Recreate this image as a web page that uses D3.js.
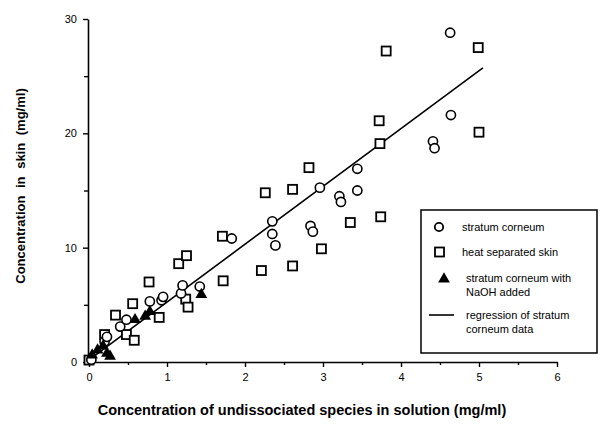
<!DOCTYPE html>
<html>
<head>
<meta charset="utf-8">
<script src="https://cdn.jsdelivr.net/npm/d3@7"></script>
<style>
  body { margin: 0; background: #fff; }
  svg { font-family: "Liberation Sans", Arial, Helvetica, sans-serif; }
</style>
</head>
<body>
<svg id="chart" width="613" height="425"></svg>
<script>
// stratum corneum (x = conc. in solution, y = conc. in skin)
var stratumCorneum = [
    [0.03, 0.2], [0.2, 1.8], [0.23, 2.2], [0.4, 3.1], [0.48, 3.7],
    [0.78, 5.3], [0.93, 5.4], [0.95, 5.7], [1.18, 6.0], [1.2, 6.7],
    [1.42, 6.6], [1.83, 10.8], [2.35, 12.3], [2.35, 11.2], [2.39, 10.2],
    [2.84, 11.9], [2.87, 11.4], [2.96, 15.25], [3.21, 14.5], [3.23, 14.0],
    [3.44, 16.9], [3.44, 15.0], [4.41, 19.3], [4.43, 18.7], [4.63, 28.8],
    [4.64, 21.6]
];
var heatSeparated = [
    [0.0, 0.17], [0.2, 2.4], [0.34, 4.1], [0.48, 2.4], [0.58, 1.9],
    [0.56, 5.1], [0.77, 7.0], [0.9, 3.9], [1.15, 8.6], [1.25, 9.3],
    [1.24, 5.5], [1.27, 4.8], [1.71, 11.0], [1.72, 7.1], [2.21, 8.0],
    [2.26, 14.8], [2.61, 15.1], [2.61, 8.4], [2.82, 17.0], [2.98, 9.9],
    [3.35, 12.2], [3.72, 21.1], [3.73, 19.1], [3.74, 12.7], [3.81, 27.2],
    [4.99, 27.5], [5.0, 20.1]
];
var withNaOH = [
    [0.04, 0.6], [0.11, 1.05], [0.18, 1.4], [0.23, 0.75], [0.27, 0.5],
    [0.59, 3.7], [0.72, 4.0], [0.78, 4.4], [1.44, 5.9]
];
var regressionSlope = 5.06;
var regressionIntercept = 0.18;
var regressionRange = [0.04, 5.05];

var xTicks = [0, 1, 2, 3, 4, 5, 6];
var xMinor = [0.5, 1.5, 2.5, 3.5, 4.5, 5.5];
var yTicks = [0, 10, 20, 30];
var yMinor = [5, 15, 25];

var legendLabels = [
    ["stratum corneum"],
    ["heat separated skin"],
    ["stratum corneum with", "NaOH added"],
    ["regression of stratum", "corneum data"]
];

var svg = d3.select("#chart");

var x = d3.scaleLinear().domain([0, 6]).range([89, 557]);
var y = d3.scaleLinear().domain([0, 30]).range([362, 19]);

// axes
svg.append("g")
    .attr("transform", "translate(0,362)")
    .call(d3.axisBottom(x).tickValues(xTicks).tickFormat(d3.format("d"))
        .tickSize(5).tickSizeOuter(0).tickPadding(6));
svg.append("g")
    .attr("transform", "translate(0,362)")
    .call(d3.axisBottom(x).tickValues(xMinor).tickSize(3).tickFormat(""))
    .select(".domain").remove();

svg.append("g")
    .attr("transform", "translate(88,0)")
    .call(d3.axisLeft(y).tickValues(yTicks).tickSize(5).tickSizeOuter(0).tickPadding(6));
svg.append("g")
    .attr("transform", "translate(88,0)")
    .call(d3.axisLeft(y).tickValues(yMinor).tickSize(4).tickFormat(""))
    .select(".domain").remove();

svg.selectAll(".domain").attr("stroke", "#000").attr("stroke-width", 1.6);
svg.selectAll(".tick line").attr("stroke", "#000").attr("stroke-width", 1.4);
svg.selectAll(".tick text")
    .attr("font-size", 11)
    .attr("font-family", "Liberation Sans, Arial, sans-serif")
    .attr("fill", "#000");

// axis titles
svg.append("text")
    .attr("x", 302)
    .attr("y", 415)
    .attr("text-anchor", "middle")
    .attr("font-size", 14.5)
    .attr("font-weight", "bold")
    .text("Concentration of undissociated species in solution (mg/ml)");

svg.append("text")
    .attr("transform", "translate(25,186) rotate(-90)")
    .attr("text-anchor", "middle")
    .attr("font-size", 13)
    .attr("font-weight", "bold")
    .attr("word-spacing", 4)
    .text("Concentration in skin (mg/ml)");

// regression line
svg.append("path")
    .datum(regressionRange)
    .attr("fill", "none")
    .attr("stroke", "#000")
    .attr("stroke-width", 1.6)
    .attr("d", d3.line()
        .x(function (d) { return x(d); })
        .y(function (d) { return y(regressionSlope * d + regressionIntercept); }));

// markers
var sq = 9;
svg.append("g").selectAll("rect")
    .data(heatSeparated)
    .join("rect")
    .attr("x", function (d) { return x(d[0]) - sq / 2; })
    .attr("y", function (d) { return y(d[1]) - sq / 2; })
    .attr("width", sq)
    .attr("height", sq)
    .attr("fill", "#fff")
    .attr("stroke", "#000")
    .attr("stroke-width", 1.8);

svg.append("g").selectAll("circle")
    .data(stratumCorneum)
    .join("circle")
    .attr("cx", function (d) { return x(d[0]); })
    .attr("cy", function (d) { return y(d[1]); })
    .attr("r", 4.6)
    .attr("fill", "#fff")
    .attr("stroke", "#000")
    .attr("stroke-width", 1.6);

var tri = d3.symbol().type(d3.symbolTriangle).size(60);
svg.append("g").selectAll("path")
    .data(withNaOH)
    .join("path")
    .attr("transform", function (d) { return "translate(" + x(d[0]) + "," + y(d[1]) + ")"; })
    .attr("d", tri)
    .attr("fill", "#000");

// legend
var legend = svg.append("g");
legend.append("rect")
    .attr("x", 421).attr("y", 210)
    .attr("width", 176).attr("height", 143)
    .attr("fill", "#fff")
    .attr("stroke", "#000")
    .attr("stroke-width", 1.5);

legend.append("circle").attr("cx", 439).attr("cy", 227).attr("r", 4.2)
    .attr("fill", "#fff").attr("stroke", "#000").attr("stroke-width", 1.8);
legend.append("rect").attr("x", 435).attr("y", 247.5).attr("width", 9).attr("height", 9)
    .attr("fill", "#fff").attr("stroke", "#000").attr("stroke-width", 1.8);
legend.append("path").attr("transform", "translate(444,279)").attr("d", tri).attr("fill", "#000");
legend.append("line").attr("x1", 429).attr("x2", 454).attr("y1", 315).attr("y2", 315)
    .attr("stroke", "#000").attr("stroke-width", 1.6);

var textX = [462, 462, 466, 466];
var textY = [231, 256, 282, 319];
legendLabels.forEach(function (lines, i) {
    var t = legend.append("text")
        .attr("x", textX[i])
        .attr("y", textY[i])
        .attr("font-size", 11);
    lines.forEach(function (s, j) {
        t.append("tspan").attr("x", textX[i]).attr("dy", j === 0 ? 0 : 13.5).text(s);
    });
});
</script>
</body>
</html>
